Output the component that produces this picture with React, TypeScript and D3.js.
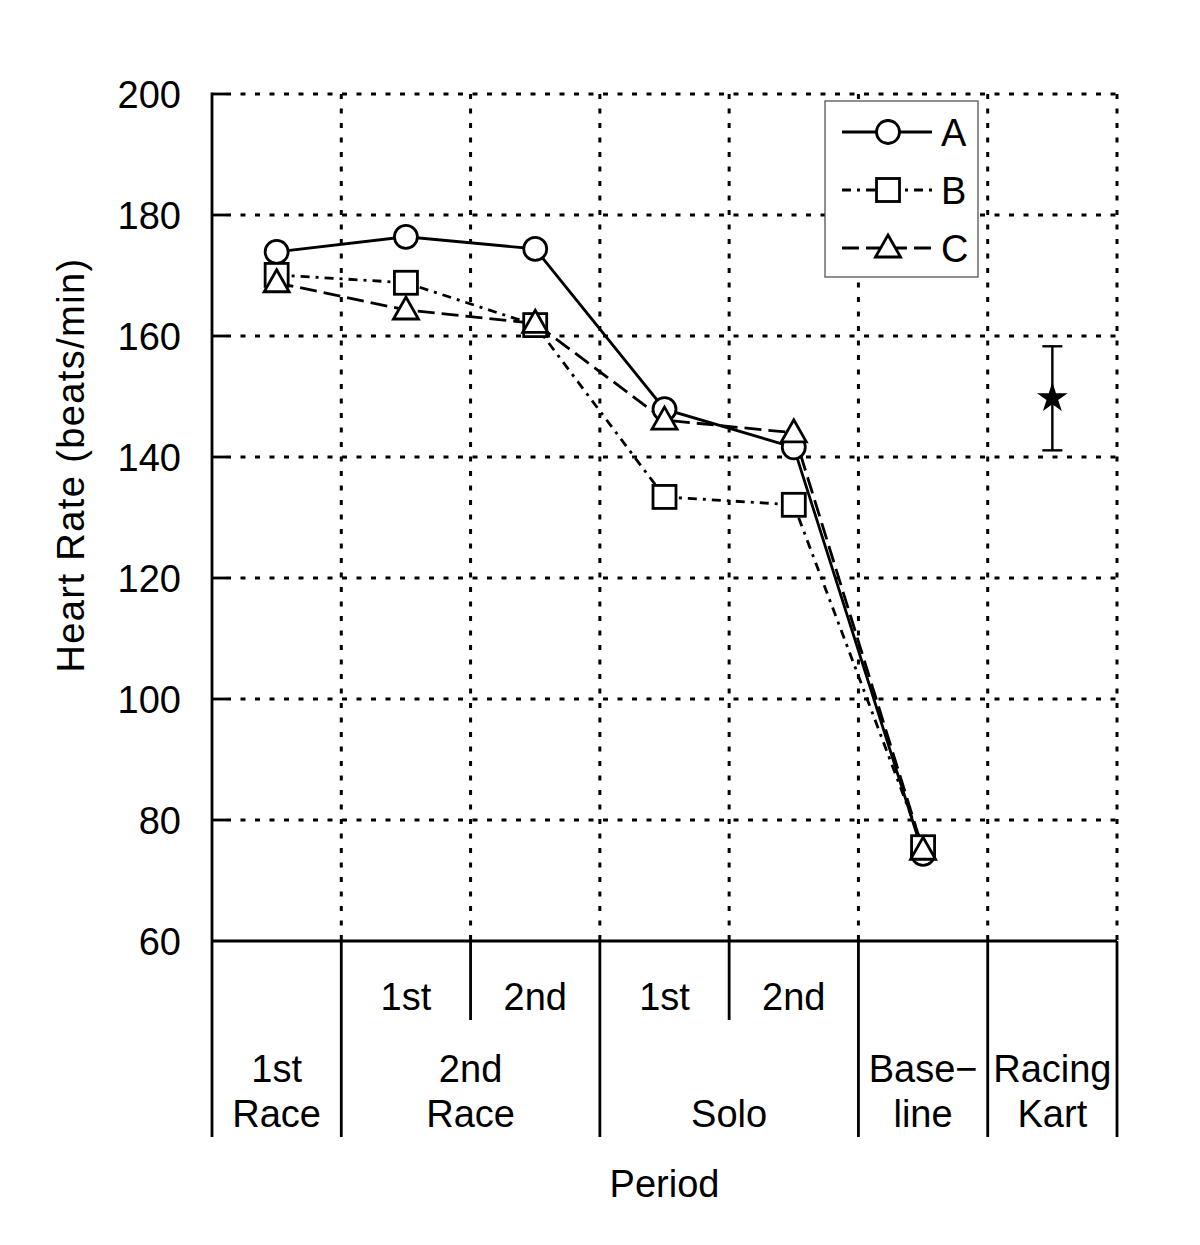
import React from "react";
import * as d3 from "d3";

const periods = ["1st Race", "2nd Race 1st", "2nd Race 2nd", "Solo 1st", "Solo 2nd", "Baseline", "Racing Kart"];
const seriesNames = ["A", "B", "C"];
const valuesA = [173.9, 176.4, 174.4, 147.9, 141.6, 74.4];
const valuesB = [170.1, 168.8, 161.8, 133.4, 132.1, 75.5];
const valuesC = [168.8, 164.3, 162.1, 146.1, 144.0, 75.0];
const kartMean = [149.9];
const kartLow = [141.1];
const kartHigh = [158.3];
const yTicks = [60, 80, 100, 120, 140, 160, 180, 200];
const subLabels = [
  { col: 1, text: "1st" },
  { col: 2, text: "2nd" },
  { col: 3, text: "1st" },
  { col: 4, text: "2nd" },
];
const groupLabels = [
  { from: 0, to: 1, lines: ["1st", "Race"] },
  { from: 1, to: 3, lines: ["2nd", "Race"] },
  { from: 3, to: 5, lines: ["", "Solo"] },
  { from: 5, to: 6, lines: ["Base\u2212", "line"] },
  { from: 6, to: 7, lines: ["Racing", "Kart"] },
];

const FONT = "'Liberation Sans', Arial, sans-serif";
const L = 212, R = 1117, T = 94, B = 941;

export default function App() {
  const x = d3.scaleLinear().domain([0, periods.length]).range([L, R]);
  const y = d3.scaleLinear().domain([60, 200]).range([B, T]);
  const cx = (i: number) => x(i + 0.5);

  const series = [
    { name: seriesNames[0], values: valuesA, dash: "none", marker: "circle" },
    { name: seriesNames[1], values: valuesB, dash: "9,6,3,6", marker: "square" },
    { name: seriesNames[2], values: valuesC, dash: "17,7", marker: "triangle" },
  ];

  const line = d3.line<number>().x((_, i) => cx(i)).y((v) => y(v));

  const marker = (type: string, px: number, py: number, key: string) => {
    const common = { fill: "#fff", stroke: "#000", strokeWidth: 2.8 };
    if (type === "circle") return <circle key={key} cx={px} cy={py} r={11.5} {...common} />;
    if (type === "square") return <rect key={key} x={px - 11.5} y={py - 11.5} width={23} height={23} {...common} />;
    return (
      <path
        key={key}
        d={`M${px},${py - 13} L${px + 12.5},${py + 9} L${px - 12.5},${py + 9} Z`}
        {...common}
        strokeLinejoin="miter"
      />
    );
  };

  const star = d3.symbol().type(d3.symbolStar).size(290)();
  const dotted = { stroke: "#000", strokeWidth: 3, strokeDasharray: "5,9.5" };
  const boundaries = d3.range(1, periods.length + 1);

  return (
    <svg width={1200} height={1245} style={{ position: "absolute", left: 0, top: 0, background: "#fff" }} fontFamily={FONT}>
      <rect x={0} y={0} width={1200} height={1245} fill="#fff" />
      {yTicks.filter((t) => t > 60).map((t) => (
        <g key={"h" + t}>
          <line x1={L} x2={L + 14} y1={y(t)} y2={y(t)} stroke="#000" strokeWidth={2.8} />
          <line x1={L + 14} x2={R} y1={y(t)} y2={y(t)} {...dotted} />
        </g>
      ))}
      {boundaries.map((b) => (
        <line key={"v" + b} x1={x(b)} x2={x(b)} y1={T} y2={B} {...dotted} />
      ))}
      <line x1={L} x2={L} y1={T - 1.4} y2={1137} stroke="#000" strokeWidth={2.8} />
      {yTicks.map((t) => (
        <text key={"t" + t} x={181} y={y(t) + 14} textAnchor="end" fontSize={38}>
          {t}
        </text>
      ))}
      <text
        transform={`translate(84,${(253 + 677) / 2}) rotate(-90)`}
        textAnchor="middle"
        fontSize={38}
        letterSpacing={1.4}
      >
        Heart Rate (beats/min)
      </text>
      <line x1={L} x2={R} y1={B} y2={B} stroke="#000" strokeWidth={2.8} />
      {[1, 3, 5, 6, 7].map((b) => (
        <line key={"tb" + b} x1={x(b)} x2={x(b)} y1={B} y2={1137} stroke="#000" strokeWidth={2.8} />
      ))}
      {[2, 4].map((b) => (
        <line key={"tm" + b} x1={x(b)} x2={x(b)} y1={B} y2={1020} stroke="#000" strokeWidth={2.8} />
      ))}
      {subLabels.map((s, i) => (
        <text key={"s" + i} x={cx(s.col)} y={1010} textAnchor="middle" fontSize={38}>
          {s.text}
        </text>
      ))}
      {groupLabels.map((g, i) => (
        <g key={"g" + i}>
          {g.lines.map((ln, j) => (
            <text key={j} x={x((g.from + g.to) / 2)} y={1082 + j * 45} textAnchor="middle" fontSize={38}>
              {ln}
            </text>
          ))}
        </g>
      ))}
      <text x={x(periods.length / 2)} y={1197} textAnchor="middle" fontSize={38}>
        Period
      </text>
      {series.map((s) => (
        <path
          key={"l" + s.name}
          d={line(s.values) || ""}
          fill="none"
          stroke="#000"
          strokeWidth={2.8}
          strokeDasharray={s.dash}
        />
      ))}
      {series.map((s) => (
        <g key={"m" + s.name}>{s.values.map((v, i) => marker(s.marker, cx(i), y(v), s.name + i))}</g>
      ))}
      <g>
        <line x1={cx(6)} x2={cx(6)} y1={y(kartHigh[0])} y2={y(kartLow[0])} stroke="#000" strokeWidth={2.4} />
        <line x1={cx(6) - 10} x2={cx(6) + 10} y1={y(kartHigh[0])} y2={y(kartHigh[0])} stroke="#000" strokeWidth={2.4} />
        <line x1={cx(6) - 10} x2={cx(6) + 10} y1={y(kartLow[0])} y2={y(kartLow[0])} stroke="#000" strokeWidth={2.4} />
        <path d={star || ""} transform={`translate(${cx(6)},${y(kartMean[0]) + 1})`} fill="#000" />
      </g>
      <rect x={825} y={101} width={153} height={176} fill="#fff" stroke="#555" strokeWidth={1.3} />
      {series.map((s, i) => {
        const ly = 132 + i * 58;
        return (
          <g key={"lg" + s.name}>
            <line x1={842} x2={932} y1={ly} y2={ly} stroke="#000" strokeWidth={2.8} strokeDasharray={s.dash} />
            {marker(s.marker, 888, ly, "lm" + i)}
            <text x={941} y={ly + 14} fontSize={38}>
              {s.name}
            </text>
          </g>
        );
      })}
    </svg>
  );
}
